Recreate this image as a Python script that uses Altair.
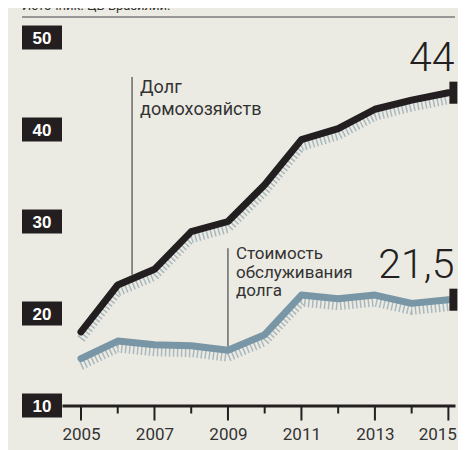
import altair as alt
import pandas as pd

# ---- data ----
years = [2005, 2006, 2007, 2008, 2009, 2010, 2011, 2012, 2013, 2014, 2015]
household_debt = [18.0, 23.1, 24.8, 28.9, 30.0, 34.0, 38.9, 40.1, 42.2, 43.2, 44.0]
debt_service = [15.1, 17.0, 16.6, 16.5, 16.0, 17.7, 22.0, 21.6, 22.0, 21.1, 21.5]
series_names = ["Долг домохозяйств", "Стоимость обслуживания долга"]
end_labels = ["44", "21,5"]
y_ticks = [10, 20, 30, 40, 50]
source_text = "Источник: ЦБ Бразилии."

ann_x = [2006.39, 2009.0]
ann_top = [45.7, 27.1]
ann_bottom = [24.2, 16.0]
ann_text_y = [44.0, 25.9]
ann_lines = [["Долг", "домохозяйств"], ["Стоимость", "обслуживания", "долга"]]

# ---- frames ----
long = pd.DataFrame({
    "year": years * 2,
    "value": household_debt + debt_service,
    "series": [series_names[0]] * len(years) + [series_names[1]] * len(years),
})
ends = pd.DataFrame({
    "year": [years[-1], years[-1]],
    "value": [household_debt[-1], debt_service[-1]],
    "label": end_labels,
})
ticks_df = pd.DataFrame({"v": y_ticks})
years_df = pd.DataFrame({"year": years})
ann1 = pd.DataFrame({"x": [ann_x[0]], "top": [ann_top[0]], "bot": [ann_bottom[0]],
                     "ty": [ann_text_y[0]], "t": [ann_lines[0]]})
ann2 = pd.DataFrame({"x": [ann_x[1]], "top": [ann_top[1]], "bot": [ann_bottom[1]],
                     "ty": [ann_text_y[1]], "t": [ann_lines[1]]})
one = pd.DataFrame({"a": [0]})

FONT = "Roboto, Liberation Sans, sans-serif"
BLACK = "#231F20"
GREY = "#7896A6"
HATCH = "#A9B8BE"
BG = "#ECEBE3"

W, H = 393, 368
xs = alt.Scale(domain=[2004.483, 2015.18], nice=False, zero=False)
ys = alt.Scale(domain=[10, 50], nice=False, zero=False)
xaxis = alt.Axis(
    title=None, values=years, ticks=False, tickSize=0, grid=False,
    domainColor=BLACK, domainWidth=3,
    labelExpr="datum.value % 2 == 1 ? datum.value : ''",
    labelFont=FONT, labelFontSize=17, labelColor="#333333",
    labelPadding=21, labelBaseline="top",
    labelFlush=10, labelFlushOffset=8,
)


def X(field):
    return alt.X(field, type="quantitative", scale=xs, axis=xaxis)


def Y(field):
    return alt.Y(field, type="quantitative", scale=ys, axis=None)


color = alt.Color("series:N", scale=alt.Scale(domain=series_names, range=[BLACK, GREY]), legend=None)

hatch = alt.Chart(long).mark_line(
    strokeWidth=9, strokeDash=[1.5, 2.5], yOffset=7, color=HATCH
).encode(x=X("year"), y=Y("value"), detail="series:N")

lines = alt.Chart(long).mark_line(
    strokeWidth=7, strokeCap="round", strokeJoin="round"
).encode(x=X("year"), y=Y("value"), color=color)

caps = alt.Chart(ends).transform_calculate(
    lo="datum.value - 1.2", hi="datum.value + 1.2"
).mark_rule(strokeWidth=8, xOffset=5, color=BLACK).encode(
    x=X("year"), y=Y("lo"), y2="hi:Q")

big = alt.Chart(ends).mark_text(
    align="right", baseline="alphabetic", dx=6, dy=-21.5, fontSize=41, fontWeight=300,
    font=FONT, color=BLACK
).encode(x=X("year"), y=Y("value"), text="label:N")

box = alt.Chart(ticks_df).transform_calculate(
    lo="datum.v - 1.3", hi="datum.v + 1.3"
).mark_rect(color=BLACK).encode(
    x=alt.value(-40), x2=alt.value(0), y=Y("lo"), y2="hi:Q")

box_text = alt.Chart(ticks_df).mark_text(
    color="white", fontWeight="bold", fontSize=17, font="Liberation Sans, Arial, sans-serif",
    align="center", baseline="middle", dy=1
).encode(x=alt.value(-20), y=Y("v"), text="v:Q")

major = alt.Chart(years_df).transform_filter("datum.year % 2 == 1").mark_rule(
    color=BLACK, strokeWidth=2).encode(x=X("year"), y=alt.value(H), y2=alt.value(H + 15))
minor = alt.Chart(years_df).transform_filter("datum.year % 2 == 0").mark_rule(
    color=BLACK, strokeWidth=2).encode(x=X("year"), y=alt.value(H), y2=alt.value(H + 8))


def annotation(df, size, lh):
    r = alt.Chart(df).mark_rule(color="#555555", strokeWidth=1.3).encode(
        x=X("x"), y=Y("top"), y2="bot:Q")
    t = alt.Chart(df).mark_text(
        align="left", baseline="alphabetic", dx=8, fontSize=size, lineHeight=lh,
        font=FONT, color="#333333"
    ).encode(x=X("x"), y=Y("ty"), text="t")
    return r + t


top_rule = alt.Chart(one).mark_rule(color="#7B7B7B", strokeWidth=1.5).encode(
    x=alt.value(-40), x2=alt.value(W), y=alt.value(-20.5))
source = alt.Chart(one).mark_text(
    text=source_text, align="left", baseline="alphabetic", fontSize=13,
    font=FONT, color="#333333"
).encode(x=alt.value(-40), y=alt.value(-27.5))

chart = alt.layer(
    top_rule, source, box, box_text, major, minor,
    annotation(ann1, 18, 22), annotation(ann2, 17, 18.5),
    hatch, lines, caps, big,
).properties(
    width=W, height=H,
    padding={"left": 54, "top": 29.5, "right": 3, "bottom": 44.5},
    autosize=alt.AutoSizeParams(type="none"),
    background=BG,
).configure_view(stroke=None)

chart.save("out.html", embed_options={"renderer": "svg", "actions": False})
